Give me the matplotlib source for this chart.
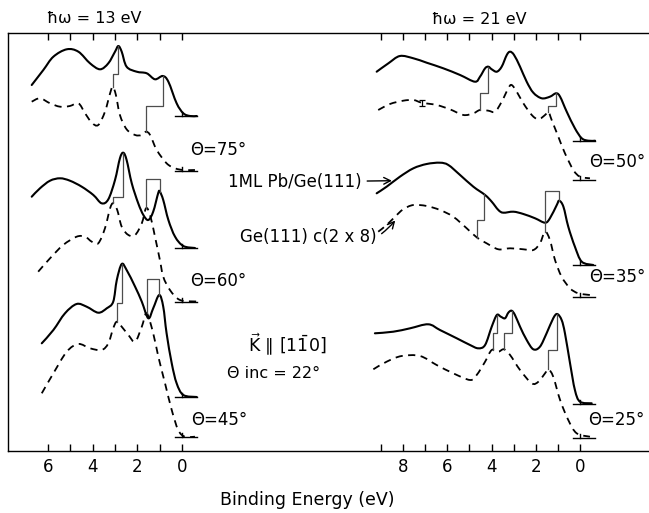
"""
Photoemission spectra of 1ML Pb/Ge(111) (solid) and Ge(111) c(2x8) (dashed)
at hv = 13 eV and hv = 21 eV for several emission angles.
"""
import numpy as np
import matplotlib
matplotlib.use("Agg")
import matplotlib.pyplot as plt
from matplotlib.path import Path
from matplotlib.patches import PathPatch

W, H = 649, 513

# ---------------- hv = 13 eV ----------------
# theta = 75
E13_75_PB = [6.73, 6.21, 5.76, 5.16, 4.64, 4.12, 3.67, 3.30, 3.00, 2.85, 2.70,
             2.48, 2.03, 1.58, 1.21, 0.86, 0.61, 0.24, -0.06, -0.36, -0.66]
I13_75_PB = [31, 46, 59.3, 66.7, 64.3, 52.7, 46.7, 52.7, 64.3, 70, 64.3,
             49.3, 44.3, 42.7, 36.7, 40, 34.3, 12.7, 2.7, 0, 0]
E13_75_GE = [6.73, 6.36, 5.91, 5.46, 5.02, 4.64, 4.34, 4.04, 3.75, 3.45, 3.22,
             3.10, 2.96, 2.78, 2.48, 2.10, 1.80, 1.61, 1.43, 1.13, 0.69, 0.31,
             -0.06, -0.58]
I13_75_GE = [69.3, 72.7, 67.7, 64.3, 65, 67.7, 57.7, 48.3, 46, 59.3, 77.7,
             84.3, 76, 56, 41.7, 36, 36, 39.3, 36, 21, 7.7, 2.7, 1, 1]

# theta = 60
E13_60_PB = [6.73, 6.36, 5.91, 5.46, 5.02, 4.49, 3.97, 3.60, 3.30, 3.00, 2.78,
             2.63, 2.48, 2.25, 1.96, 1.73, 1.51, 1.29, 1.06, 0.99, 0.84, 0.61,
             0.31, -0.06, -0.58]
I13_60_PB = [51.3, 59.7, 67.3, 69.7, 67.3, 61.3, 53, 44.7, 48.7, 68, 89.7,
             95.3, 88, 64.7, 44.7, 33, 28, 36.3, 55.3, 56.3, 48, 28,
             11.3, 2, 0]
E13_60_GE = [6.44, 5.91, 5.32, 4.72, 4.34, 4.04, 3.75, 3.45, 3.22, 3.08, 2.90,
             2.70, 2.40, 2.10, 1.80, 1.61, 1.43, 1.21, 0.99, 0.84, 0.54, 0.09,
             -0.66]
I13_60_GE = [29.8, 43.2, 56.5, 64.8, 64.8, 59.8, 58.2, 73.2, 93.2, 98.2, 91.5,
             74.8, 66.5, 66.5, 78.2, 93.2, 86.5, 64.8, 41.5, 24.8, 11.5, 1.5, 0]

# theta = 45
E13_45_PB = [6.28, 5.76, 5.24, 4.72, 4.27, 3.75, 3.37, 3.08, 2.92, 2.70, 2.48,
             2.10, 1.80, 1.51, 1.29, 1.02, 0.84, 0.69, 0.46, 0.24, -0.06, -0.66]
I13_45_PB = [53.7, 67, 83.7, 93, 90.3, 84.3, 88.7, 95.3, 117, 133, 127,
             110.3, 95.3, 78.7, 88.7, 102, 90.3, 63.7, 33.7, 13.7, 2, 0]
E13_45_GE = [6.28, 5.76, 5.16, 4.64, 4.12, 3.60, 3.30, 3.08, 2.92, 2.70, 2.40,
             2.10, 1.80, 1.58, 1.29, 1.06, 0.76, 0.46, 0.17, -0.13, -0.58]
I13_45_GE = [43.7, 63.7, 85.3, 93, 88.7, 87, 93.7, 108.7, 115.3, 110.3, 102,
             95.3, 110.3, 123.7, 103.7, 80.3, 53.7, 27, 7, 0.3, 0.3]

# ---------------- hv = 21 eV ----------------
# theta = 50
E21_50_PB = [9.19, 8.66, 8.14, 7.53, 6.93, 6.18, 5.42, 4.75, 4.52, 4.29, 4.14,
             3.99, 3.76, 3.54, 3.31, 3.16, 2.98, 2.71, 2.41, 2.11, 1.73, 1.36,
             1.08, 0.90, 0.60, 0.23, -0.08, -0.38, -0.68]
I21_50_PB = [69, 77.4, 84.7, 82.4, 78, 72.4, 65.7, 59, 64, 72.4, 74,
             71.4, 69, 74, 85.7, 89, 85.7, 74, 59, 48, 42.4, 44,
             47.4, 44, 29, 12.4, 2.4, 0, 0]
E21_50_GE = [9.12, 8.59, 7.99, 7.53, 7.15, 6.48, 5.88, 5.27, 4.82, 4.52, 4.14,
             3.84, 3.54, 3.24, 3.09, 2.86, 2.56, 2.18, 1.88, 1.58, 1.43, 1.28,
             0.98, 0.68, 0.30, 0.00, -0.45]
I21_50_GE = [70, 76, 79.3, 80, 77.3, 75, 70.7, 65, 66.7, 70, 69.3,
             68.3, 78.3, 91.7, 95, 88.3, 76.7, 65, 60.7, 65, 68.3, 60,
             43.3, 26.7, 10, 3.3, 1.7]
ERRBAR_E = 7.15
ERRBAR_DI = 3

# theta = 35
E21_35_PB = [9.19, 8.74, 8.14, 7.53, 6.93, 6.33, 5.95, 5.42, 4.82, 4.29, 3.99,
             3.69, 3.47, 3.01, 2.56, 2.03, 1.58, 1.36, 1.05, 0.94, 0.75, 0.53,
             0.23, -0.08, -0.60]
I21_35_PB = [71.7, 78.3, 88.3, 96.7, 101, 102.3, 100, 90, 78.3, 70, 63.3,
             55, 52.3, 53.3, 51, 46.7, 42.3, 46.7, 60, 64.3, 58.3, 38.3,
             18.3, 3.3, 0]
E21_35_GE = [9.12, 8.74, 8.36, 7.99, 7.53, 6.93, 6.33, 5.73, 5.12, 4.67, 4.22,
             3.69, 3.16, 2.56, 2.11, 1.81, 1.58, 1.36, 1.13, 0.83, 0.45, 0.08,
             -0.45]
I21_35_GE = [65, 71.7, 80, 87.4, 91.7, 90.7, 86.7, 80, 68.4, 59.4, 53.4,
             47.4, 48.4, 47.4, 46.7, 53.4, 65, 56.7, 36.7, 20, 8.4, 3.4, 1.7]

# theta = 25
E21_25_PB = [9.27, 8.44, 7.68, 6.86, 6.33, 5.57, 4.97, 4.60, 4.29, 3.99, 3.76,
             3.58, 3.39, 3.24, 3.09, 2.94, 2.71, 2.41, 2.11, 1.81, 1.51, 1.21,
             1.03, 0.83, 0.68, 0.45, 0.23, 0.00, -0.53]
I21_25_PB = [70.2, 71.8, 75.2, 79.2, 73.5, 65.2, 58.5, 55.2, 58.5, 76.8, 88.5,
             86.8, 85.2, 90.8, 92.8, 88.5, 76.8, 63.5, 54.2, 56.8, 70.2, 85.2,
             89.5, 83.5, 70.2, 40.2, 13.5, 1.8, 0.2]
E21_25_GE = [9.34, 8.74, 8.06, 7.23, 6.48, 5.73, 4.97, 4.67, 4.29, 3.99, 3.69,
             3.44, 3.16, 2.71, 2.18, 1.88, 1.58, 1.43, 1.21, 0.90, 0.53, 0.15,
             -0.45]
I21_25_GE = [69, 76.6, 82.3, 82.3, 73.3, 65, 58.3, 63.3, 76.6, 88.3, 86.6,
             89, 83.3, 68.3, 55, 56.6, 65, 69, 61.6, 38.3, 18.3, 5, 1.6]

# peak shifts: (E Pb/Ge peak, E Ge peak, level of the connecting bar)
STEPS_13_75 = [(2.85, 3.10, 376.7), (0.86, 1.61, 345.3)]
STEPS_13_60 = [(2.63, 3.08, 254.3), (0.99, 1.61, 271.7)]
STEPS_13_45 = [(2.70, 2.92, 147.7), (1.02, 1.58, 171.7)]
STEPS_21_50 = [(4.14, 4.52, 357.7), (1.08, 1.43, 345.0)]
STEPS_21_35 = [(4.34, 4.64, 231.0), (0.94, 1.58, 260.3)]
STEPS_21_25 = [(3.76, 3.94, 117.7), (3.09, 3.44, 117.7), (1.03, 1.43, 101.0)]

# vertical offsets (zero-intensity level) of each spectrum: (Pb/Ge, Ge)
OFF_13_75 = (335, 280)
OFF_13_60 = (203, 149.5)
OFF_13_45 = (54, 14)
OFF_21_50 = (310.3, 271)
OFF_21_35 = (186, 154.3)
OFF_21_25 = (47.5, 12.7)

FONT = ["DejaVu Sans"]


def pix(x, y):
    """pixel position (from top-left) -> figure fraction"""
    return x / W, 1 - y / H


def add_axes_px(fig, x0, x1, y0, y1):
    return fig.add_axes([x0 / W, 1 - y1 / H, (x1 - x0) / W, (y1 - y0) / H])


def curve_at(e, es, ii):
    return np.interp(e, es[::-1], ii[::-1])


def smooth_path(x, y):
    # Catmull-Rom spline through the points, as cubic bezier segments
    p = np.column_stack([x, y])
    q = np.vstack([p[0], p, p[-1]])
    verts = [p[0]]
    codes = [Path.MOVETO]
    for i in range(len(p) - 1):
        p0, p1, p2, p3 = q[i], q[i + 1], q[i + 2], q[i + 3]
        verts += [p1 + (p2 - p0) / 6, p2 - (p3 - p1) / 6, p2]
        codes += [Path.CURVE4] * 3
    return Path(verts, codes)


def draw_pair(ax, e_pb, i_pb, e_ge, i_ge, offs, steps):
    off_pb, off_ge = offs
    ax.add_patch(PathPatch(smooth_path(e_pb, np.array(i_pb) + off_pb),
                           fill=False, ec="black", lw=1.5,
                           capstyle="round", joinstyle="round"))
    ax.add_patch(PathPatch(smooth_path(e_ge, np.array(i_ge) + off_ge),
                           fill=False, ec="black", lw=1.3,
                           linestyle=(0, (4, 3))))
    for e1, e2, lev in steps:
        y1 = curve_at(e1, e_pb, i_pb) + off_pb
        y2 = curve_at(e2, e_ge, i_ge) + off_ge
        ax.plot([e1, e1, e2, e2], [y1, lev, lev, y2], color="0.3", lw=0.9)
    # zero-intensity markers at E_F
    for off in offs:
        ax.plot([0.31, -0.67], [off, off], color="black", lw=1.0)
        ax.plot([0, 0], [off, off + 4], color="black", lw=1.0)


def setup_panel(ax, n_ticks):
    ax.set_ylim(0, 418)
    ax.patch.set_alpha(0)
    for s in ax.spines.values():
        s.set_visible(False)
    ax.set_yticks([])
    ax.set_xticks(range(n_ticks))
    ax.set_xticklabels([str(t) if t % 2 == 0 else "" for t in range(n_ticks)])
    ax.tick_params(axis="x", direction="in", top=True, length=5, width=1,
                   labelsize=12, pad=5)


def main():
    plt.rcParams["font.family"] = FONT
    fig = plt.figure(figsize=(W / 100, H / 100), dpi=100)

    # outer frame
    frame = add_axes_px(fig, 8, 660, 33, 451)
    frame.set_xticks([])
    frame.set_yticks([])
    frame.spines["right"].set_visible(False)
    for s in ("left", "top", "bottom"):
        frame.spines[s].set_linewidth(1.0)

    # hv = 13 eV panel
    axl = add_axes_px(fig, 8, 330, 33, 451)
    axl.set_xlim((182 - 8) / 22.33, (182 - 330) / 22.33)
    setup_panel(axl, 7)
    draw_pair(axl, E13_75_PB, I13_75_PB, E13_75_GE, I13_75_GE, OFF_13_75, STEPS_13_75)
    draw_pair(axl, E13_60_PB, I13_60_PB, E13_60_GE, I13_60_GE, OFF_13_60, STEPS_13_60)
    draw_pair(axl, E13_45_PB, I13_45_PB, E13_45_GE, I13_45_GE, OFF_13_45, STEPS_13_45)

    # hv = 21 eV panel
    axr = add_axes_px(fig, 330, 649, 33, 451)
    axr.set_xlim((580 - 330) / 22.125, (580 - 649) / 22.125)
    setup_panel(axr, 10)
    draw_pair(axr, E21_50_PB, I21_50_PB, E21_50_GE, I21_50_GE, OFF_21_50, STEPS_21_50)
    draw_pair(axr, E21_35_PB, I21_35_PB, E21_35_GE, I21_35_GE, OFF_21_35, STEPS_21_35)
    draw_pair(axr, E21_25_PB, I21_25_PB, E21_25_GE, I21_25_GE, OFF_21_25, STEPS_21_25)
    y_err = curve_at(ERRBAR_E, E21_50_GE, I21_50_GE) + OFF_21_50[1]
    axr.errorbar([ERRBAR_E], [y_err], yerr=ERRBAR_DI, fmt="none",
                 ecolor="black", elinewidth=0.9, capsize=2, capthick=0.9)

    # labels
    fig.text(*pix(47, 19), "ħω = 13 eV", fontsize=11.5, va="center")
    fig.text(*pix(432, 20), "ħω = 21 eV", fontsize=11.5, va="center")
    for (x, y), s in [((190, 150), "Θ=75°"), ((190, 281), "Θ=60°"),
                      ((191, 420), "Θ=45°"), ((589, 162), "Θ=50°"),
                      ((589, 277), "Θ=35°"), ((588, 420), "Θ=25°")]:
        fig.text(*pix(x, y), s, fontsize=12, va="center")

    fig.text(*pix(248, 345), r"$\vec{\mathrm{K}}$ ∥ [1$\bar{1}$0]",
             fontsize=12.5, va="center")
    fig.text(*pix(227, 373), "Θ inc = 22°", fontsize=11.5, va="center")

    e_pb_arrow = 8.5
    axr.annotate("1ML Pb/Ge(111)",
                 xy=(e_pb_arrow, curve_at(e_pb_arrow, E21_35_PB, I21_35_PB)
                     + OFF_21_35[0] + 2),
                 xytext=pix(228, 182), textcoords="figure fraction",
                 fontsize=12, va="center",
                 arrowprops=dict(arrowstyle="->", color="black", lw=1.0,
                                 shrinkA=2, shrinkB=0))
    e_ge_arrow = 8.35
    axr.annotate("Ge(111) c(2 x 8)",
                 xy=(e_ge_arrow, curve_at(e_ge_arrow, E21_35_GE, I21_35_GE)
                     + OFF_21_35[1] - 4),
                 xytext=pix(240, 237), textcoords="figure fraction",
                 fontsize=12, va="center",
                 arrowprops=dict(arrowstyle="->", color="black", lw=1.0,
                                 shrinkA=2, shrinkB=0,
                                 connectionstyle="arc3,rad=0.4"))

    fig.text(*pix(307, 500), "Binding Energy (eV)", fontsize=12.5,
             ha="center", va="center")

    fig.savefig("out.png", dpi=100)
    plt.close(fig)


if __name__ == "__main__":
    main()
